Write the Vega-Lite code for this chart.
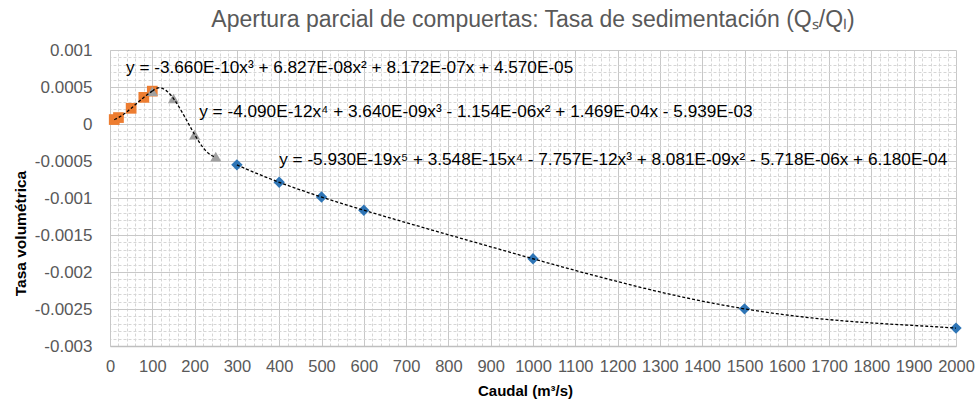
{
  "$schema": "https://vega.github.io/schema/vega-lite/v6.json",
  "width": 846,
  "height": 296,
  "autosize": {"type": "none"},
  "padding": {"left": 110, "top": 50, "right": 20, "bottom": 58},
  "background": "white",
  "config": {"view": {"stroke": null}, "font": "Liberation Sans"},
  "title": {"text": "Apertura parcial de compuertas: Tasa de sedimentación (Qₛ/Qₗ)", "fontSize": 23, "font": "Liberation Sans", "fontWeight": "normal", "color": "#595959", "offset": 9, "anchor": "middle"},
  "datasets": {
    "pts": [
      {"serie": "A", "x": 10, "y": 0.00006},
      {"serie": "A", "x": 20, "y": 0.000087},
      {"serie": "A", "x": 50, "y": 0.000212},
      {"serie": "A", "x": 80, "y": 0.00036},
      {"serie": "A", "x": 100, "y": 0.000444},
      {"serie": "B", "x": 100, "y": 0.000442},
      {"serie": "B", "x": 150, "y": 0.000345},
      {"serie": "B", "x": 200, "y": -0.000143},
      {"serie": "B", "x": 250, "y": -0.000441},
      {"serie": "C", "x": 300, "y": -0.000552},
      {"serie": "C", "x": 400, "y": -0.000788},
      {"serie": "C", "x": 500, "y": -0.000987},
      {"serie": "C", "x": 600, "y": -0.001165},
      {"serie": "C", "x": 1000, "y": -0.001821},
      {"serie": "C", "x": 1500, "y": -0.002498},
      {"serie": "C", "x": 2000, "y": -0.002758}
    ]
  },
  "layer": [
    {
      "data": {"name": "pts"},
      "mark": {"type": "point", "opacity": 0},
      "encoding": {
        "x": {"field": "x", "type": "quantitative", "scale": {"domain": [0, 2000], "nice": false, "zero": false},
          "axis": {"orient": "top", "values": [20,40,60,80,120,140,160,180,220,240,260,280,320,340,360,380,420,440,460,480,520,540,560,580,620,640,660,680,720,740,760,780,820,840,860,880,920,940,960,980,1020,1040,1060,1080,1120,1140,1160,1180,1220,1240,1260,1280,1320,1340,1360,1380,1420,1440,1460,1480,1520,1540,1560,1580,1620,1640,1660,1680,1720,1740,1760,1780,1820,1840,1860,1880,1920,1940,1960,1980],
            "grid": true, "gridColor": "#d6d6d6", "gridDash": [3, 2], "gridWidth": 1, "labels": false, "ticks": false, "domain": false, "title": null}},
        "y": {"field": "y", "type": "quantitative", "scale": {"domain": [-0.003, 0.001], "nice": false, "zero": false},
          "axis": {"orient": "right", "values": [-0.0029,-0.0028,-0.0027,-0.0026,-0.0024,-0.0023,-0.0022,-0.0021,-0.0019,-0.0018,-0.0017,-0.0016,-0.0014,-0.0013,-0.0012,-0.0011,-0.0009,-0.0008,-0.0007,-0.0006,-0.0004,-0.0003,-0.0002,-0.0001,0.0001,0.0002,0.0003,0.0004,0.0006,0.0007,0.0008,0.0009],
            "grid": true, "gridColor": "#d6d6d6", "gridDash": [3, 2], "gridWidth": 1, "labels": false, "ticks": false, "domain": false, "title": null}}
      }
    },
    {
      "data": {"name": "pts"},
      "mark": {"type": "point", "filled": true, "opacity": 1},
      "encoding": {
        "x": {"field": "x", "type": "quantitative", "scale": {"domain": [0, 2000], "nice": false, "zero": false},
          "axis": {"orient": "bottom", "values": [0,100,200,300,400,500,600,700,800,900,1000,1100,1200,1300,1400,1500,1600,1700,1800,1900,2000], "format": "d",
            "grid": true, "gridColor": "#c8c8c8", "gridWidth": 1, "ticks": false, "domain": true, "domainColor": "#bfbfbf", "domainWidth": 1.5,
            "labelFontSize": 16.5, "labelColor": "#595959", "labelPadding": 12, "labelOverlap": false, "labelFlush": false,
            "title": "Caudal (m³/s)", "titleFontSize": 15, "titleFontWeight": "bold", "titleColor": "#000000", "titleX": 415, "titleY": 44, "titleBaseline": "middle", "titleAlign": "center"}},
        "y": {"field": "y", "type": "quantitative", "scale": {"domain": [-0.003, 0.001], "nice": false, "zero": false},
          "axis": {"orient": "left", "values": [-0.003,-0.0025,-0.002,-0.0015,-0.001,-0.0005,0,0.0005,0.001],
            "labelExpr": "replace(format(datum.value, '~g'), '−', '-')",
            "grid": true, "gridColor": "#c8c8c8", "gridWidth": 1, "ticks": false, "domain": true, "domainColor": "#c8c8c8",
            "labelFontSize": 17, "labelColor": "#595959", "labelPadding": 18, "labelOverlap": false, "labelFlush": false,
            "title": "Tasa volumétrica", "titleFontSize": 15.5, "titleFontWeight": "bold", "titleColor": "#000000", "titleX": -90, "titleY": 183, "titleAngle": -90, "titleBaseline": "middle", "titleAlign": "center"}},
        "shape": {"field": "serie", "type": "nominal", "scale": {"domain": ["A", "B", "C"], "range": ["square", "triangle-up", "diamond"]}, "legend": null},
        "color": {"field": "serie", "type": "nominal", "scale": {"domain": ["A", "B", "C"], "range": ["#ed7d31", "#a0a0a0", "#2e75b6"]}, "legend": null},
        "size": {"field": "serie", "type": "nominal", "scale": {"domain": ["A", "B", "C"], "range": [115, 130, 170]}, "legend": null}
      }
    },
    {
      "data": {"name": "pts"},
      "transform": [{"filter": "datum.serie == 'A'"}, {"regression": "y", "on": "x", "method": "poly", "order": 3}],
      "mark": {"type": "line", "color": "#000000", "strokeDash": [3, 2], "strokeWidth": 1.3},
      "encoding": {"x": {"field": "x", "type": "quantitative", "axis": null}, "y": {"field": "y", "type": "quantitative", "axis": null}}
    },
    {
      "data": {"name": "pts"},
      "transform": [{"filter": "datum.serie == 'B'"}, {"regression": "y", "on": "x", "method": "poly", "order": 3}],
      "mark": {"type": "line", "color": "#000000", "strokeDash": [3, 2], "strokeWidth": 1.3},
      "encoding": {"x": {"field": "x", "type": "quantitative", "axis": null}, "y": {"field": "y", "type": "quantitative", "axis": null}}
    },
    {
      "data": {"name": "pts"},
      "transform": [{"filter": "datum.serie == 'C'"}, {"regression": "y", "on": "x", "method": "poly", "order": 5}],
      "mark": {"type": "line", "color": "#000000", "strokeDash": [3, 2], "strokeWidth": 1.3},
      "encoding": {"x": {"field": "x", "type": "quantitative", "axis": null}, "y": {"field": "y", "type": "quantitative", "axis": null}}
    },
    {
      "data": {"values": [{}]},
      "mark": {"type": "text", "align": "left", "baseline": "middle", "fontSize": 17.2, "color": "#000000", "font": "Liberation Sans"},
      "encoding": {"x": {"datum": 38, "type": "quantitative", "axis": null}, "y": {"datum": 0.00076, "type": "quantitative", "axis": null}, "text": {"value": "y = -3.660E-10x³ + 6.827E-08x² + 8.172E-07x + 4.570E-05"}}
    },
    {
      "data": {"values": [{}]},
      "mark": {"type": "text", "align": "left", "baseline": "middle", "fontSize": 17.2, "color": "#000000", "font": "Liberation Sans"},
      "encoding": {"x": {"datum": 211, "type": "quantitative", "axis": null}, "y": {"datum": 0.000162, "type": "quantitative", "axis": null}, "text": {"value": "y = -4.090E-12x⁴ + 3.640E-09x³ - 1.154E-06x² + 1.469E-04x - 5.939E-03"}}
    },
    {
      "data": {"values": [{}]},
      "mark": {"type": "text", "align": "left", "baseline": "middle", "fontSize": 17.2, "color": "#000000", "font": "Liberation Sans"},
      "encoding": {"x": {"datum": 400, "type": "quantitative", "axis": null}, "y": {"datum": -0.000493, "type": "quantitative", "axis": null}, "text": {"value": "y = -5.930E-19x⁵ + 3.548E-15x⁴ - 7.757E-12x³ + 8.081E-09x² - 5.718E-06x + 6.180E-04"}}
    }
  ],
  "resolve": {"axis": {"x": "independent", "y": "independent"}}
}
